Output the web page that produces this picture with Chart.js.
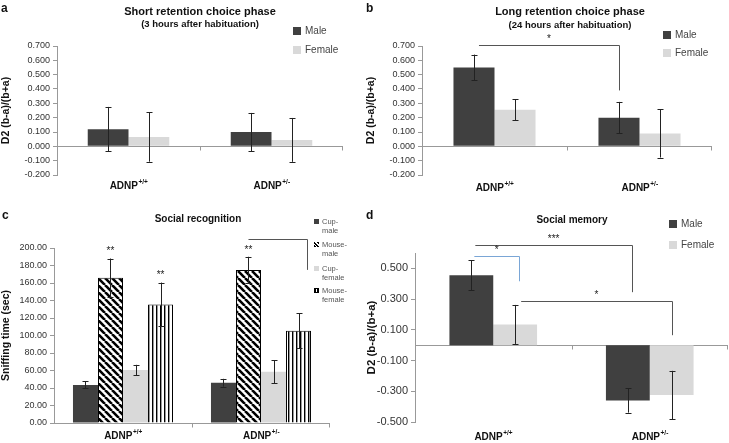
<!DOCTYPE html>
<html>
<head>
<meta charset="utf-8">
<script src="https://cdn.jsdelivr.net/npm/chart.js@4.4.1/dist/chart.umd.min.js"></script>
<style>
body{margin:0;background:#fff;}
#fig{position:relative;width:729px;height:443px;font-family:"Liberation Sans",Arial,sans-serif;color:#111;overflow:hidden;background:#fff}
canvas{position:absolute}
.t{position:absolute;font-weight:bold;white-space:nowrap;transform:translate(-50%,-50%)}
.l{position:absolute;font-weight:bold;font-size:12px;line-height:12px}
.lg{position:absolute;font-size:10px;line-height:12px;color:#444;white-space:nowrap}
.lg i{position:absolute;left:-12px;top:2px;width:8px;height:8px}
.lc{position:absolute;font-size:7.5px;line-height:9px;color:#555;white-space:nowrap}
.lc i{position:absolute;left:-8px;top:2px;width:5px;height:5px;box-sizing:border-box}
</style>
</head>
<body>
<div id="fig">
  <canvas id="ca" width="365" height="215" style="left:0;top:0"></canvas>
  <canvas id="cb" width="364" height="215" style="left:365px;top:0"></canvas>
  <canvas id="cc" width="365" height="228" style="left:0;top:215px"></canvas>
  <canvas id="cd" width="364" height="228" style="left:365px;top:215px"></canvas>

  <div class="l" style="left:1px;top:2px">a</div>
  <div class="l" style="left:366px;top:2px">b</div>
  <div class="l" style="left:2px;top:209px">c</div>
  <div class="l" style="left:366px;top:209px">d</div>

  <div class="t" style="left:200px;top:10.5px;font-size:11px">Short retention choice phase</div>
  <div class="t" style="left:200px;top:23px;font-size:9.5px">(3 hours after habituation)</div>
  <div class="t" style="left:570px;top:11px;font-size:11px">Long retention choice phase</div>
  <div class="t" style="left:570px;top:24px;font-size:9.5px">(24 hours after habituation)</div>
  <div class="t" style="left:198px;top:218px;font-size:10px">Social recognition</div>
  <div class="t" style="left:572px;top:219px;font-size:10px">Social memory</div>

  <div class="lg" style="left:305px;top:25px"><i style="background:#404040"></i>Male</div>
  <div class="lg" style="left:305px;top:44px"><i style="background:#d9d9d9"></i>Female</div>
  <div class="lg" style="left:675px;top:29px"><i style="background:#404040"></i>Male</div>
  <div class="lg" style="left:675px;top:47px"><i style="background:#d9d9d9"></i>Female</div>
  <div class="lg" style="left:681px;top:218px"><i style="background:#404040"></i>Male</div>
  <div class="lg" style="left:681px;top:239px"><i style="background:#d9d9d9"></i>Female</div>

  <div class="lc" style="left:322px;top:216.5px"><i style="background:#404040"></i>Cup-<br>male</div>
  <div class="lc" style="left:322px;top:239.5px"><i style="background:repeating-linear-gradient(45deg,#000 0 1.5px,#fff 1.5px 2.5px)"></i>Mouse-<br>male</div>
  <div class="lc" style="left:322px;top:263.5px"><i style="background:#d9d9d9"></i>Cup-<br>female</div>
  <div class="lc" style="left:322px;top:285.5px"><i style="border:1px solid #000;background:repeating-linear-gradient(90deg,#000 0 1px,#fff 1px 2px)"></i>Mouse-<br>female</div>
</div>
<script>
Chart.defaults.font.family = '"Liberation Sans", Arial, sans-serif';

var groups = ['ADNP+/+', 'ADNP+/-'];

// a - short retention
var aMale = [0.12, 0.10];
var aMaleErr = [0.155, 0.133];
var aFemale = [0.065, 0.045];
var aFemaleErr = [0.172, 0.153];

// b - long retention
var bMale = [0.55, 0.20];
var bMaleErr = [0.09, 0.11];
var bFemale = [0.255, 0.09];
var bFemaleErr = [0.072, 0.168];

var abTicks = [-0.2, -0.1, 0, 0.1, 0.2, 0.3, 0.4, 0.5, 0.6, 0.7];

// c - social recognition
var cCupMale = [43.5, 46];
var cCupMaleErr = [4, 4.5];
var cMouseMale = [166, 175];
var cMouseMaleErr = [22, 15];
var cCupFemale = [60.5, 58.5];
var cCupFemaleErr = [6, 13];
var cMouseFemale = [135.5, 105.5];
var cMouseFemaleErr = [25, 20];
var cMouseMaleStars = ['**', '**'];
var cMouseFemaleStars = ['**', ''];
var cTicks = [0, 20, 40, 60, 80, 100, 120, 140, 160, 180, 200];

// d - social memory
var dMale = [0.455, -0.36];
var dMaleErr = [0.097, 0.079];
var dFemale = [0.135, -0.325];
var dFemaleErr = [0.127, 0.158];
var dTicks = [-0.5, -0.3, -0.1, 0.1, 0.3, 0.5];

var DARK = '#404040', LIGHT = '#d9d9d9', AXIS = '#999';

function pattern(kind) {
  var c = document.createElement('canvas');
  var g = c.getContext('2d');
  if (kind == 'diag') {
    var s = 7;
    c.width = s; c.height = s;
    g.fillStyle = '#fff'; g.fillRect(0, 0, s, s);
    g.strokeStyle = '#000'; g.lineWidth = 2.6;
    g.beginPath();
    for (var k = -1; k <= 1; k++) { g.moveTo(k * s, 0); g.lineTo(k * s + s, s); }
    g.stroke();
  } else {
    c.width = 4; c.height = 2;
    g.fillStyle = '#fff'; g.fillRect(0, 0, 4, 2);
    g.fillStyle = '#000'; g.fillRect(0, 0, 1.4, 2);
  }
  return g.createPattern(c, 'repeat');
}

var extras = {
  id: 'extras',
  beforeDatasetsDraw: function (chart) {
    var ctx = chart.ctx, area = chart.chartArea, x = chart.scales.x, y = chart.scales.y;
    var y0 = Math.round(y.getPixelForValue(0)) + 0.5;
    var mid = (x.getPixelForValue(0) + x.getPixelForValue(1)) / 2;
    ctx.save();
    ctx.strokeStyle = AXIS; ctx.lineWidth = 1;
    ctx.beginPath();
    ctx.moveTo(area.left, y0); ctx.lineTo(area.right, y0);
    ctx.moveTo(Math.round(mid) + 0.5, y0); ctx.lineTo(Math.round(mid) + 0.5, y0 + 4);
    ctx.moveTo(Math.round(area.right) - 0.5, y0); ctx.lineTo(Math.round(area.right) - 0.5, y0 + 4);
    ctx.stroke();
    ctx.restore();
  },
  afterDatasetsDraw: function (chart, args, opts) {
    var ctx = chart.ctx, x = chart.scales.x, y = chart.scales.y;
    ctx.save();
    // error bars and stars
    chart.data.datasets.forEach(function (ds, i) {
      var meta = chart.getDatasetMeta(i);
      meta.data.forEach(function (bar, j) {
        var v = ds.data[j], e = ds.errors[j];
        var px = Math.round(bar.x) + 0.5;
        var t = y.getPixelForValue(v + e), b = y.getPixelForValue(v - e);
        ctx.strokeStyle = '#222'; ctx.lineWidth = 1;
        ctx.beginPath();
        ctx.moveTo(px, t); ctx.lineTo(px, b);
        ctx.moveTo(px - 3, Math.round(t) + 0.5); ctx.lineTo(px + 3, Math.round(t) + 0.5);
        ctx.moveTo(px - 3, Math.round(b) + 0.5); ctx.lineTo(px + 3, Math.round(b) + 0.5);
        ctx.stroke();
        if (ds.stars && ds.stars[j]) {
          ctx.fillStyle = '#222'; ctx.font = '10px "Liberation Sans", Arial';
          ctx.textAlign = 'center'; ctx.textBaseline = 'middle';
          ctx.fillText(ds.stars[j], bar.x, t - 7);
        }
      });
    });
    // significance brackets
    (opts.brackets || []).forEach(function (br) {
      var x1 = chart.getDatasetMeta(br.from[0]).data[br.from[1]].x + (br.dx1 || 0);
      var x2 = chart.getDatasetMeta(br.to[0]).data[br.to[1]].x + (br.dx2 || 0);
      var yt = Math.round(y.getPixelForValue(br.top)) + 0.5;
      var yl = y.getPixelForValue(br.leg);
      ctx.strokeStyle = br.color || '#555'; ctx.lineWidth = 1;
      ctx.beginPath();
      ctx.moveTo(x1, yt); ctx.lineTo(Math.round(x2) + 0.5, yt); ctx.lineTo(Math.round(x2) + 0.5, yl);
      ctx.stroke();
      if (br.text) {
        ctx.fillStyle = '#222'; ctx.font = '10px "Liberation Sans", Arial';
        ctx.textAlign = 'center'; ctx.textBaseline = 'middle';
        ctx.fillText(br.text, (x1 + x2) / 2, yt - 6);
      }
    });
    // group labels with superscript
    chart.data.labels.forEach(function (lab, j) {
      var base = lab.slice(0, 4), sup = lab.slice(4);
      ctx.fillStyle = '#111'; ctx.textAlign = 'left'; ctx.textBaseline = 'middle';
      ctx.font = 'bold 10px "Liberation Sans", Arial';
      var w1 = ctx.measureText(base).width;
      ctx.font = 'bold 6.5px "Liberation Sans", Arial';
      var w2 = ctx.measureText(sup).width;
      var sx = x.getPixelForValue(j) - (w1 + w2) / 2;
      ctx.font = 'bold 10px "Liberation Sans", Arial';
      ctx.fillText(base, sx, opts.labelY);
      ctx.font = 'bold 6.5px "Liberation Sans", Arial';
      ctx.fillText(sup, sx + w1 + 0.5, opts.labelY - 4);
    });
    ctx.restore();
  }
};

function barChart(id, cfg) {
  return new Chart(document.getElementById(id), {
    type: 'bar',
    data: { labels: groups, datasets: cfg.datasets },
    options: {
      responsive: false,
      animation: false,
      layout: { padding: cfg.pad },
      datasets: { bar: { categoryPercentage: cfg.catPct, barPercentage: 1 } },
      plugins: {
        legend: { display: false },
        tooltip: { enabled: false },
        extras: { labelY: cfg.labelY, brackets: cfg.brackets || [] }
      },
      scales: {
        x: { display: false },
        y: {
          min: cfg.min, max: cfg.max,
          afterFit: function (s) { s.width = cfg.axisW; },
          afterBuildTicks: function (s) { s.ticks = cfg.ticks.map(function (v) { return { value: v }; }); },
          border: { display: true, color: AXIS },
          grid: { drawOnChartArea: false, tickLength: 4, color: AXIS },
          ticks: {
            font: { size: cfg.tickSize }, color: '#333', padding: 3,
            callback: function (v) { return Number(v).toFixed(cfg.dec); }
          },
          title: { display: true, text: cfg.yTitle, color: '#111', padding: 0,
                   font: { size: cfg.titleSize, weight: 'bold' } }
        }
      }
    },
    plugins: [extras]
  });
}

barChart('ca', {
  datasets: [
    { data: aMale, errors: aMaleErr, backgroundColor: DARK },
    { data: aFemale, errors: aFemaleErr, backgroundColor: LIGHT }
  ],
  pad: { left: 0, top: 46, right: 22, bottom: 40 }, axisW: 57, catPct: 0.57,
  min: -0.2, max: 0.7, ticks: abTicks, dec: 3, tickSize: 9,
  yTitle: 'D2 (b-a)/(b+a)', titleSize: 10.5, labelY: 186
});

barChart('cb', {
  datasets: [
    { data: bMale, errors: bMaleErr, backgroundColor: DARK },
    { data: bFemale, errors: bFemaleErr, backgroundColor: LIGHT }
  ],
  pad: { left: 0, top: 46, right: 17, bottom: 40 }, axisW: 57, catPct: 0.566,
  min: -0.2, max: 0.7, ticks: abTicks, dec: 3, tickSize: 9,
  yTitle: 'D2 (b-a)/(b+a)', titleSize: 10.5, labelY: 188,
  brackets: [{ from: [0, 0], to: [0, 1], top: 0.71, leg: 0.39, text: '*', dx1: 5 }]
});

barChart('cc', {
  datasets: [
    { data: cCupMale, errors: cCupMaleErr, backgroundColor: DARK },
    { data: cMouseMale, errors: cMouseMaleErr, stars: cMouseMaleStars, backgroundColor: pattern('diag'), borderColor: '#000', borderWidth: 1 },
    { data: cCupFemale, errors: cCupFemaleErr, backgroundColor: LIGHT },
    { data: cMouseFemale, errors: cMouseFemaleErr, stars: cMouseFemaleStars, backgroundColor: pattern('vert'), borderColor: '#000', borderWidth: 1 }
  ],
  pad: { left: 0, top: 33, right: 35, bottom: 20 }, axisW: 54, catPct: 0.725,
  min: 0, max: 200, ticks: cTicks, dec: 2, tickSize: 9,
  yTitle: 'Sniffing time (sec)', titleSize: 10.5, labelY: 221,
  brackets: [{ from: [1, 1], to: [3, 1], top: 210, leg: 175, text: '', dx2: 8 }]
});

barChart('cd', {
  datasets: [
    { data: dMale, errors: dMaleErr, backgroundColor: DARK },
    { data: dFemale, errors: dFemaleErr, backgroundColor: LIGHT }
  ],
  pad: { left: 0, top: 38, right: 1, bottom: 21 }, axisW: 50, catPct: 0.56,
  min: -0.5, max: 0.6, ticks: dTicks, dec: 3, tickSize: 11,
  yTitle: 'D2 (b-a)/(b+a)', titleSize: 11.5, labelY: 222,
  brackets: [
    { from: [0, 0], to: [0, 1], top: 0.655, leg: 0.345, text: '***', dx1: 4, dx2: 4 },
    { from: [0, 0], to: [1, 0], top: 0.578, leg: 0.416, text: '*', color: '#7aa6d6', dx1: 3, dx2: 4 },
    { from: [1, 0], to: [1, 1], top: 0.286, leg: 0.065, text: '*', dx1: 6 }
  ]
});
</script>
</body>
</html>
